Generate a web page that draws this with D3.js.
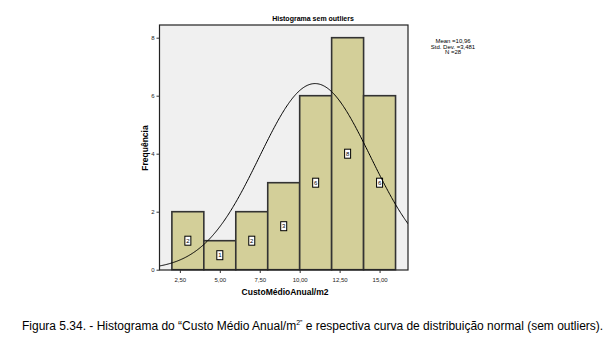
<!DOCTYPE html>
<html lang="en">
<head>
<meta charset="UTF-8">
<title>Histograma sem outliers</title>
<script src="https://d3js.org/d3.v7.min.js"></script>
<style>
    body { margin: 0; background: #fff; }
    svg text { font-family: "Liberation Sans", Arial, sans-serif; }
</style>
</head>
<body>
<div id="chart"></div>
<script>
// bins of CustoMedioAnual/m2 (without outliers)
const binStarts = [2, 4, 6, 8, 10, 12, 14];
const binWidth = 2;
const counts = [2, 1, 2, 3, 6, 8, 6];
const xTicks = [2.5, 5, 7.5, 10, 12.5, 15];
const yTicks = [0, 2, 4, 6, 8];
const mean = 10.96, sd = 3.481, n = 28;

const W = 615, H = 353;
const svg = d3.select("#chart").append("svg").attr("width", W).attr("height", H);

const pLeft = 159.5, pRight = 408, pTop = 25, pBottom = 270;

const x = d3.scaleLinear().domain([1.225, 16.78]).range([pLeft, pRight]);
const y = d3.scaleLinear().domain([0, 8]).range([269.7, 37.7]);

// plot background
svg.append("rect")
    .attr("x", pLeft).attr("y", pTop)
    .attr("width", pRight - pLeft).attr("height", pBottom - pTop)
    .attr("fill", "#f0f0f0");

// bars
svg.selectAll("rect.bar")
    .data(counts)
    .enter().append("rect")
    .attr("class", "bar")
    .attr("x", (d, i) => x(binStarts[i]))
    .attr("y", d => y(d))
    .attr("width", (d, i) => x(binStarts[i] + binWidth) - x(binStarts[i]))
    .attr("height", d => y(0) - y(d))
    .attr("fill", "#d3cf99")
    .attr("stroke", "#333")
    .attr("stroke-width", 1.6);

// count labels in the middle of each bar
const lab = svg.selectAll("g.lab")
    .data(counts)
    .enter().append("g")
    .attr("transform", (d, i) => `translate(${x(binStarts[i] + binWidth / 2)},${y(d / 2)})`);
lab.append("rect")
    .attr("x", -3).attr("y", -4.5).attr("width", 6).attr("height", 9)
    .attr("fill", "#fff").attr("stroke", "#000").attr("stroke-width", 1);
lab.append("text")
    .attr("text-anchor", "middle").attr("dy", "2.2px")
    .style("font-size", "6px")
    .text(d => d);

// normal curve
svg.append("clipPath").attr("id", "plotclip")
    .append("rect").attr("x", pLeft).attr("y", pTop)
    .attr("width", pRight - pLeft).attr("height", pBottom - pTop);
const pts = d3.range(1.2, 16.9, 0.05).map(v => {
    const z = (v - mean) / sd;
    return [v, n * binWidth * Math.exp(-0.5 * z * z) / (sd * Math.sqrt(2 * Math.PI))];
});
svg.append("path")
    .datum(pts)
    .attr("clip-path", "url(#plotclip)")
    .attr("fill", "none")
    .attr("stroke", "#000")
    .attr("stroke-width", 1)
    .attr("d", d3.line().x(d => x(d[0])).y(d => y(d[1])));

// frame
svg.append("rect")
    .attr("x", pLeft).attr("y", pTop)
    .attr("width", pRight - pLeft).attr("height", pBottom - pTop)
    .attr("fill", "none").attr("stroke", "#222").attr("stroke-width", 1.2);

// axes
const fmt = d => d.toFixed(2).replace(".", ",");
const xAxis = svg.append("g")
    .attr("transform", `translate(0,${pBottom})`)
    .call(d3.axisBottom(x).tickValues(xTicks).tickFormat(fmt).tickSize(3).tickPadding(5));
const yAxis = svg.append("g")
    .attr("transform", `translate(${pLeft},0)`)
    .call(d3.axisLeft(y).tickValues(yTicks).tickFormat(d3.format("d")).tickSize(3).tickPadding(2));
[xAxis, yAxis].forEach(a => {
    a.select(".domain").remove();
    a.selectAll("line").attr("stroke", "#333");
    a.selectAll("text").style("font-size", "6px").attr("fill", "#222");
});

// title
svg.append("text")
    .attr("x", 313).attr("y", 21)
    .attr("text-anchor", "middle")
    .style("font-size", "7px").style("font-weight", "bold")
    .text("Histograma sem outliers");

// stats
const stats = ["Mean =10,96", "Std. Dev. =3,481", "N =28"];
svg.append("g").selectAll("text")
    .data(stats)
    .enter().append("text")
    .attr("x", 453).attr("y", (d, i) => 43 + i * 5.5)
    .attr("text-anchor", "middle")
    .style("font-size", "6px")
    .text(d => d);

// axis labels
svg.append("text")
    .attr("x", 285).attr("y", 295)
    .attr("text-anchor", "middle")
    .style("font-size", "8.5px").style("font-weight", "bold")
    .text("CustoMédioAnual/m2");
svg.append("text")
    .attr("transform", "translate(148,148) rotate(-90)")
    .attr("text-anchor", "middle")
    .style("font-size", "8.5px").style("font-weight", "bold")
    .text("Frequência");

// caption
const cap = svg.append("text")
    .attr("x", 22).attr("y", 330)
    .style("font-size", "12px");
cap.append("tspan").text("Figura 5.34. - Histograma do “Custo Médio Anual/m");
cap.append("tspan").attr("dy", -5).style("font-size", "7px").text("2”");
cap.append("tspan").attr("dy", 5).text(" e respectiva curva de distribuição normal (sem outliers).");
</script>
</body>
</html>
